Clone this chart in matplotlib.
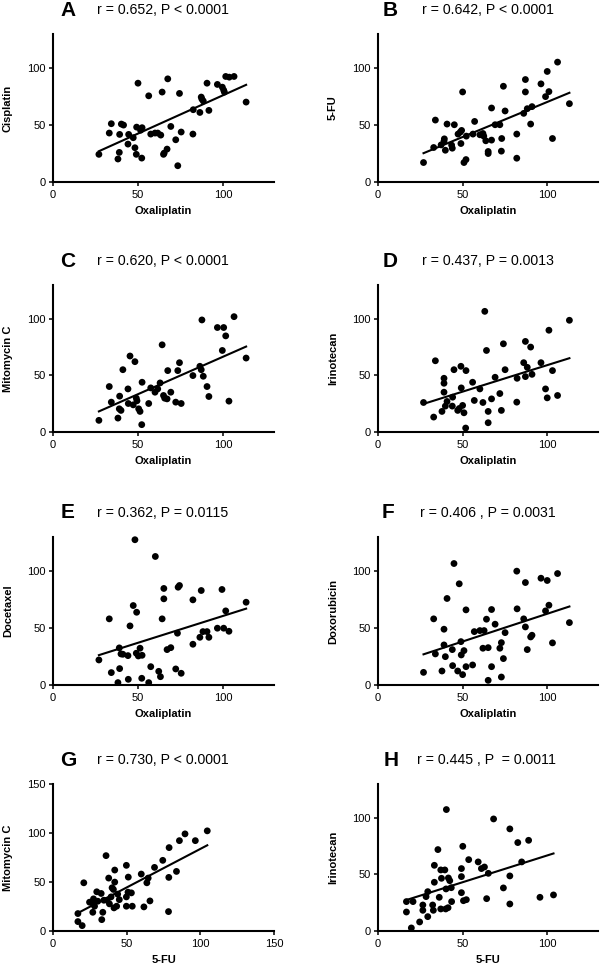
import numpy as np
import matplotlib
matplotlib.use('Agg')
import matplotlib.pyplot as plt

plt.rcParams['font.family'] = ['Liberation Sans', 'DejaVu Sans']

# panel letters, statistics text and axis labels
letters = ['A', 'B', 'C', 'D', 'E', 'F', 'G', 'H']
stats = ['r = 0.652, P < 0.0001', 'r = 0.642, P < 0.0001',
         'r = 0.620, P < 0.0001', 'r = 0.437, P = 0.0013',
         'r = 0.362, P = 0.0115', 'r = 0.406 , P = 0.0031',
         'r = 0.730, P < 0.0001', 'r = 0.445 , P  = 0.0011']
xlabels = ['Oxaliplatin'] * 6 + ['5-FU', '5-FU']
ylabels = ['Cisplatin', '5-FU', 'Mitomycin C', 'Irinotecan',
           'Docetaxel', 'Doxorubicin', 'Mitomycin C', 'Irinotecan']
axis_max = [130, 130, 130, 130, 130, 130, 150, 130]

# A: Oxaliplatin vs Cisplatin
a_x = [27, 33.1, 34.3, 38.2, 39, 39.2, 40.2, 41.5, 44.1, 44.5, 47.2, 48.2, 49, 49.2, 50,
       52.2, 52.4, 51.5, 56.3, 57.5, 60, 61.6, 63.4, 64.2, 65, 65.4, 67.1, 67.5, 69.3, 72.2,
       73.4, 74.4, 75.4, 82.3, 82.5, 86.4, 87.2, 87.6, 88.4, 90.6, 91.7, 96.7, 99.6, 100.4,
       100.8, 101.6, 103.7, 106.5, 113.6]
a_y = [24.3, 43, 51.2, 20.2, 26, 41.8, 50.9, 50, 33.3, 41.8, 38.9, 30.1, 24.3, 48.2, 86.8,
       21, 47.7, 45.5, 75.7, 42.1, 43, 43, 41.2, 79, 24.3, 25.4, 28.9, 90.6, 48.8, 37.1,
       14.3, 77.8, 43.9, 42.1, 63.5, 61.1, 74.6, 72.8, 71.1, 86.8, 62.9, 85.7, 83.3, 80.7,
       79, 92.7, 92.1, 92.7, 70.2]

# B: Oxaliplatin vs 5-FU
b_x = [26.9, 32.9, 33.9, 37.3, 39, 39.2, 39.8, 40.8, 43.5, 43.9, 45.1, 47.3, 48.6, 49.4,
       49, 50, 50.8, 52, 52.2, 56.1, 57.1, 60.2, 62, 62.5, 63.7, 65.1, 65.1, 67.1, 67.1,
       69.2, 72, 72.9, 73.1, 74.1, 75.1, 82, 82, 86.1, 87.1, 87.1, 88.2, 90.2, 91, 96.3, 99,
       100, 101, 103.1, 106.1, 113.1]
b_y = [17.1, 30.3, 54.4, 32.6, 35.9, 37.9, 27.9, 50.9, 32.4, 29.7, 50.3, 42.1, 43.8, 45.3,
       33.8, 79.1, 17.1, 19.7, 40.3, 42.1, 53.2, 41.5, 42.6, 40.3, 36.2, 26.8, 25, 36.8, 65,
       50.3, 50.3, 27.1, 38.2, 84.1, 62.4, 42.1, 20.9, 60.3, 90, 79.1, 64.4, 50.9, 66.2,
       86.2, 75, 97.1, 79.4, 38.2, 105.3, 68.8]

# C: Oxaliplatin vs Mitomycin C
c_x = [27, 33.1, 34.3, 38.2, 39, 39.2, 40, 41.1, 44.1, 44.3, 45.3, 47.2, 48.2, 49, 49.4,
       50.4, 51.2, 52.2, 52.4, 56.3, 57.5, 60, 61.6, 63, 64.2, 65, 65.7, 67.1, 67.5, 69.3,
       72.2, 73.4, 74.4, 75.4, 82.3, 86.4, 87.2, 87.6, 88.4, 90.6, 91.7, 96.7, 99.6, 100.4,
       101.6, 103.5, 106.5, 113.6]
c_y = [10.3, 40.2, 26.4, 12.3, 20.5, 31.7, 19.1, 55.1, 38.1, 25.2, 67.2, 24, 62.2, 29.9,
       27.6, 20.5, 18.2, 6.5, 44, 25.2, 39, 35.2, 38.1, 43.4, 77.1, 32.3, 29.9, 29.3, 54.3,
       35.2, 26.4, 54.3, 61.3, 25.2, 49.9, 58.1, 55.1, 99.1, 49.3, 40.2, 31.4, 92.4, 72.1,
       92.4, 85, 27.3, 102, 65.4]

# D: Oxaliplatin vs Irinotecan
d_x = [26.9, 32.9, 33.9, 37.8, 39, 39, 39, 39.8, 40.8, 43.9, 44.1, 44.9, 47.1, 48, 49, 49.2,
       50, 50.8, 52, 51.8, 55.9, 56.9, 60.2, 62, 63.1, 64.1, 65.1, 65.1, 67.1, 69.2, 72,
       72.9, 74.1, 75.1, 82, 82.2, 86.1, 87.1, 87.1, 88.2, 90.2, 91, 96.3, 99, 100, 101,
       103.1, 106.1, 113.1]
d_y = [26.1, 13.2, 63, 18.2, 47.5, 43.1, 35.2, 22.9, 27, 22.9, 30.8, 55.1, 19.1, 20.8, 58.1,
       39, 23.5, 17, 54.3, 3.5, 44, 27.9, 38.1, 26.1, 106.7, 72.1, 18.2, 8.2, 29.3, 48.4, 34,
       19.1, 78, 55.1, 26.4, 47.5, 61.3, 80.1, 49, 57.2, 75.1, 51, 61.3, 38.1, 30.2, 90,
       54.3, 32.3, 98.8]

# E: Oxaliplatin vs Docetaxel
e_x = [27, 33.1, 34.3, 38.2, 39, 39.2, 40, 41.1, 44.1, 44.3, 45.3, 47.2, 48.2, 49.2, 49,
       50.2, 51.2, 52.2, 52.4, 56.3, 57.5, 60.2, 62.2, 63.2, 64.2, 65.2, 65.2, 67.1, 69.3,
       72.2, 73.2, 73.6, 74.4, 75.4, 82.3, 82.3, 86.4, 87.2, 88.2, 90.6, 91.7, 96.7, 99.4,
       100.4, 101.6, 103.5, 113.6]
e_y = [22, 58.1, 10.9, 2.1, 32.6, 14.4, 27.3, 27, 25.8, 5, 51.9, 69.8, 127.6, 63.9, 27.9,
       25.5, 32.3, 5.9, 26.1, 2.1, 16.1, 112.9, 12, 7.3, 58.1, 84.8, 75.7, 31.1, 32.8, 14.1,
       45.5, 85.9, 87.4, 10.3, 35.8, 74.8, 41.9, 83, 46.9, 46.9, 41.9, 49.9, 83.9, 49.9,
       65.1, 47.2, 72.7]

# F: Oxaliplatin vs Doxorubicin
f_x = [26.9, 32.9, 33.9, 37.8, 39, 39, 39.8, 40.8, 43.9, 44.1, 44.9, 47.1, 48, 49, 49.2, 50,
       50.8, 52, 52, 55.9, 56.9, 60.2, 62, 62.7, 64.1, 65.1, 65.1, 67.1, 67.1, 69.2, 72,
       72.9, 72.9, 74.1, 75.1, 82, 82.2, 86.1, 87.1, 87.1, 88.2, 90.2, 91, 96.3, 99, 100,
       101, 103.1, 106.1, 113.1]
f_y = [11.1, 58.1, 27.3, 12.3, 49, 35.2, 24.9, 76, 31.1, 17, 106.7, 12.3, 88.9, 38.1, 26.4,
       9.1, 30.2, 66, 16.1, 17.6, 46.9, 47.8, 32.3, 47.8, 57.8, 32.8, 4.1, 66.3, 16.1, 53.4,
       32.3, 37.2, 7, 23.2, 46, 100, 66.9, 58.1, 90, 51, 31.1, 42.2, 43.7, 93.8, 65.1, 91.8,
       70.1, 37, 97.9, 54.8]

# G: 5-FU vs Mitomycin C
g_x = [16.9, 16.9, 19.8, 20.9, 24.8, 26.6, 27, 27.5, 28.2, 29.7, 30.4, 32.7, 33.1, 33.8,
       34.5, 36, 36.7, 37.8, 38.3, 39.4, 40.1, 41, 41.4, 41.9, 41.9, 43.2, 43.9, 45, 49.8,
       49.8, 49.8, 50.9, 51.1, 53.2, 53.8, 59.9, 61.7, 63.7, 64.6, 65.8, 68.9, 74.5, 78.4,
       78.6, 78.8, 83.8, 85.8, 89.6, 96.6, 104.7]
g_y = [17.8, 9.6, 5.5, 49.2, 29.4, 28.7, 19.1, 32.8, 25.3, 40, 30.4, 38.3, 11.6, 19.1, 31.4,
       76.9, 31.4, 54, 27.7, 34.8, 44.1, 42.4, 23.6, 62.2, 49.9, 25.3, 37.6, 32, 67, 34.8,
       25.3, 39.6, 55, 38.9, 25.3, 58.1, 24.6, 49.2, 54, 30.7, 64.9, 72.1, 19.8, 54.7, 85.1,
       60.8, 92.2, 99.1, 92.2, 102.2]

# H: 5-FU vs Irinotecan
h_x = [16.8, 16.8, 19.7, 20.7, 24.6, 26.5, 26.5, 28.4, 29.4, 29.4, 32.3, 32.7, 33.3, 33.3,
       35.4, 36.2, 37.1, 37.5, 37.1, 39.5, 40.2, 40, 40.4, 41.4, 41.6, 42.4, 43.3, 43.5,
       49.3, 49.3, 49.3, 50.1, 50.5, 52.2, 53.6, 59.2, 61.1, 62.9, 64.2, 65.2, 68.3, 74.1,
       77.9, 77.9, 77.9, 82.6, 84.9, 89, 95.7, 103.7]
h_y = [26, 16.8, 2.7, 26, 8, 23, 18.3, 30.4, 34.8, 12.7, 23, 18.3, 43.1, 58.1, 72, 29.8, 54,
       46.6, 19.5, 54, 37.2, 19.5, 107.4, 20.6, 46.9, 44.5, 38.3, 26, 55.2, 48.1, 33.9, 74.9,
       26.8, 27.7, 63.1, 61.1, 55.2, 56.6, 28.6, 51, 99.1, 38.1, 90.3, 48.7, 23.9, 78.2,
       61.1, 80.2, 29.8, 31.9]

xs = [a_x, b_x, c_x, d_x, e_x, f_x, g_x, h_x]
ys = [a_y, b_y, c_y, d_y, e_y, f_y, g_y, h_y]

# layout in pixels of the 600 x 968 picture
W, H = 600, 968
col_left = [53, 378]
col_width = [221, 220]
row_top = [34, 285, 537, 784]
row_bottom = [182, 432, 685, 931]
letter_dx = [15, 12, 15, 12, 15, 10, 15, 13]
stat_dx = [44, 44, 44, 44, 44, 42, 44, 39]

fig = plt.figure(figsize=(6, 9.68), dpi=100)

for i in range(8):
    r, c = i // 2, i % 2
    left, width = col_left[c], col_width[c]
    top, bottom = row_top[r], row_bottom[r]
    height = bottom - top
    ax = fig.add_axes([left / W, 1 - bottom / H, width / W, height / H])

    x = np.array(xs[i])
    y = np.array(ys[i])
    ax.scatter(x, y, s=24, color='black', edgecolors='none', zorder=3, clip_on=False)

    # linear regression line over the data range
    slope, icpt = np.polyfit(x, y, 1)
    xx = np.array([x.min(), x.max()])
    ax.plot(xx, slope * xx + icpt, color='black', linewidth=1.5)

    m = axis_max[i]
    ax.set_xlim(0, m)
    ax.set_ylim(0, m)
    ticks = [0, 50, 100, 150] if m == 150 else [0, 50, 100]
    ax.set_xticks(ticks)
    ax.set_yticks(ticks)

    for side in ['top', 'right']:
        ax.spines[side].set_visible(False)
    for side in ['left', 'bottom']:
        ax.spines[side].set_linewidth(1.5)
    ax.tick_params(direction='out', length=3, width=1.1, labelsize=8, pad=2.5)
    ax.tick_params(axis='x', pad=3)

    ax.set_xlabel(xlabels[i], fontsize=8, fontweight='bold')
    ax.set_ylabel(ylabels[i], fontsize=8, fontweight='bold')
    ax.xaxis.set_label_coords(0.5, -24 / height)
    ax.yaxis.set_label_coords(-40 / width, 0.5)

    ty = 1 - (top - 24) / H
    fig.text((left + letter_dx[i]) / W, ty, letters[i], fontsize=15,
             fontweight='bold', ha='center', va='center')
    fig.text((left + stat_dx[i]) / W, ty, stats[i], fontsize=10.2,
             ha='left', va='center')

fig.savefig('out.png', dpi=100)
